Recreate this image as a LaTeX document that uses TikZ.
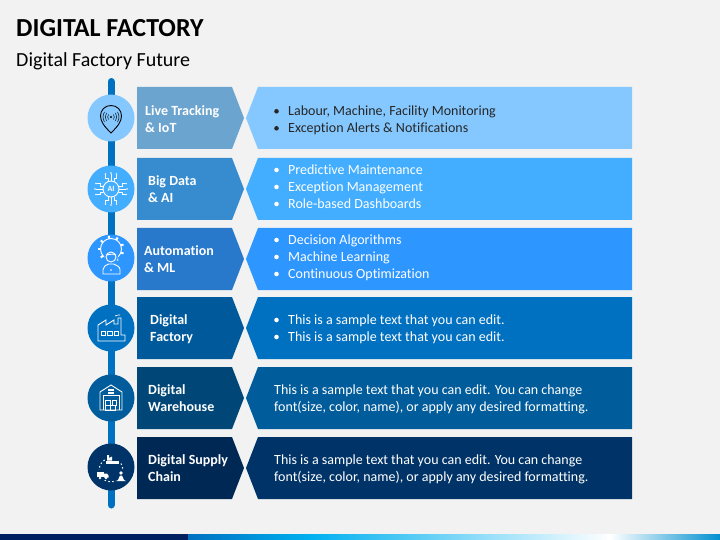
\documentclass[tikz,border=0pt]{standalone}
\usepackage{fontspec}
\setmainfont{Carlito}[Ligatures=CommonOff]
\definecolor{bgc}{HTML}{F2F2F2}
\definecolor{railc}{HTML}{0070C0}
\definecolor{lA}{HTML}{6CA4D0}\definecolor{rA}{HTML}{85C8FF}
\definecolor{lB}{HTML}{378CCF}\definecolor{rB}{HTML}{43AEFF}
\definecolor{lC}{HTML}{2878CC}\definecolor{rC}{HTML}{2E96FF}
\definecolor{lD}{HTML}{00599B}\definecolor{rD}{HTML}{0070C0}
\definecolor{lE}{HTML}{004676}\definecolor{rE}{HTML}{005C9B}
\definecolor{lF}{HTML}{002855}\definecolor{rF}{HTML}{003468}
\definecolor{navy}{HTML}{002060}
\definecolor{barmid}{HTML}{00B0F0}
\definecolor{barend}{HTML}{0090D0}
\tikzset{
  x=1pt,y=-1pt,
  titletext/.style={anchor=base west,inner sep=0pt,font=\fontsize{26}{30}\selectfont\bfseries,text=black},
  subtext/.style={anchor=base west,inner sep=0pt,font=\fontsize{20}{24}\selectfont,text=black},
  labeltext/.style={anchor=base west,inner sep=0pt,font=\fontsize{14}{17}\selectfont\bfseries,text=white},
  bodytext/.style={anchor=base west,inner sep=0pt,font=\fontsize{14}{17}\selectfont,text=white},
  darkbody/.style={anchor=base west,inner sep=0pt,font=\fontsize{14}{17}\selectfont,text=black!85},
  dotmark/.style={circle,fill=#1,inner sep=0pt,minimum size=4.6pt},
  iconw/.style={draw=white,line width=0.7pt,fill=none},
  iconk/.style={draw=black,line width=0.9pt,fill=none},
  dotline/.style={draw=white,line width=1pt,dash pattern=on 1.5pt off 2.5pt},
}
\newcommand{\rowshapes}[4]{% top, left colour, right colour, circle cy
  \fill[#2] (137,#1) -- (232,#1) -- (244,#1+31) -- (232,#1+62) -- (137,#1+62) -- cycle;
  \fill[#3] (258,#1) -- (632,#1) -- (632,#1+62) -- (258,#1+62) -- (246,#1+31) -- cycle;
  \fill[#3] (111,#4) circle (23.5);
}
\begin{document}
\begin{tikzpicture}
\useasboundingbox (0,0) rectangle (720,540);
\fill[bgc] (0,0) rectangle (720,540);
% bottom bar
\fill[navy] (0,534) rectangle (188,540);
\fill[left color=railc,right color=barmid] (188,534) rectangle (310,540);
\fill[left color=barmid,right color=white] (310,534) rectangle (610,540);
\fill[left color=white,right color=barend] (610,534) rectangle (720,540);
% titles
\node[titletext] (title) at (16,37) {DIGITAL FACTORY};
\node[subtext] (subtitle) at (16,66.7) {Digital Factory Future};
% rail
\draw[railc,line width=7pt,line cap=round] (111,81.5) -- (111,505);
% rows
\rowshapes{87}{lA}{rA}{118}
\rowshapes{158}{lB}{rB}{189}
\rowshapes{228}{lC}{rC}{258}
\rowshapes{297}{lD}{rD}{328}
\rowshapes{367}{lE}{rE}{398}
\rowshapes{437}{lF}{rF}{467}
% labels
\node[labeltext] (l1a) at (145,115.8) {Live Tracking};
\node[labeltext] (l1b) at (145,132.8) {\& IoT};
\node[labeltext] (l2a) at (148,185.8) {Big Data};
\node[labeltext] (l2b) at (148,202.8) {\& AI};
\node[labeltext] (l3a) at (144,255) {Automation};
\node[labeltext] (l3b) at (144,272) {\& ML};
\node[labeltext] (l4a) at (150,324) {Digital};
\node[labeltext] (l4b) at (150,341) {Factory};
\node[labeltext] (l5a) at (148,394) {Digital};
\node[labeltext] (l5b) at (148,411) {Warehouse};
\node[labeltext] (l6a) at (148,464) {Digital Supply};
\node[labeltext] (l6b) at (148,481) {Chain};
% body row 1
\node[dotmark=black!85] (b1ad) at (276.5,111.3) {};
\node[darkbody] (b1a) at (288,116) {Labour, Machine, Facility Monitoring};
\node[dotmark=black!85] (b1bd) at (276.5,128.3) {};
\node[darkbody] (b1b) at (288,133) {Exception Alerts \& Notifications};
% body row 2
\node[dotmark=white] (b2ad) at (276.5,170) {};
\node[bodytext] (b2a) at (288,174.7) {Predictive Maintenance};
\node[dotmark=white] (b2bd) at (276.5,187) {};
\node[bodytext] (b2b) at (288,191.7) {Exception Management};
\node[dotmark=white] (b2cd) at (276.5,204) {};
\node[bodytext] (b2c) at (288,208.7) {Role-based Dashboards};
% body row 3
\node[dotmark=white] (b3ad) at (276.5,240) {};
\node[bodytext] (b3a) at (288,244.7) {Decision Algorithms};
\node[dotmark=white] (b3bd) at (276.5,257) {};
\node[bodytext] (b3b) at (288,261.7) {Machine Learning};
\node[dotmark=white] (b3cd) at (276.5,274) {};
\node[bodytext] (b3c) at (288,278.7) {Continuous Optimization};
% body row 4
\node[dotmark=white] (b4ad) at (276.5,320) {};
\node[bodytext] (b4a) at (288,324.4) {This is a sample text that you can edit.};
\node[dotmark=white] (b4bd) at (276.5,337) {};
\node[bodytext] (b4b) at (288,341.4) {This is a sample text that you can edit.};
% body rows 5, 6
\node[bodytext] (b5a) at (274,394.4) {This is a sample text that you can edit. You can change};
\node[bodytext] (b5b) at (274,411.4) {font(size, color, name), or apply any desired formatting.};
\node[bodytext] (b6a) at (274,464.4) {This is a sample text that you can edit. You can change};
\node[bodytext] (b6b) at (274,481.4) {font(size, color, name), or apply any desired formatting.};
% icon 1: pin with signal
\draw[iconk] (111,133) .. controls (105,127) and (100.5,122) .. (100.5,116)
  .. controls (100.5,110) and (105,105.5) .. (111,105.5)
  .. controls (117,105.5) and (121.5,110) .. (121.5,116)
  .. controls (121.5,122) and (117,127) .. (111,133) -- cycle;
\fill[black] (111,117) circle (1.2);
\draw[black,line width=0.5pt] (113.5,114.5) .. controls (114.5,116) and (114.5,118) .. (113.5,119.5);
\draw[black,line width=0.5pt] (115.5,113) .. controls (117,115.5) and (117,118.5) .. (115.5,121);
\draw[black,line width=0.5pt] (117.5,112) .. controls (119.5,115) and (119.5,119) .. (117.5,122);
\draw[black,line width=0.5pt] (108.5,114.5) .. controls (107.5,116) and (107.5,118) .. (108.5,119.5);
\draw[black,line width=0.5pt] (106.5,113) .. controls (105,115.5) and (105,118.5) .. (106.5,121);
\draw[black,line width=0.5pt] (104.5,112) .. controls (102.5,115) and (102.5,119) .. (104.5,122);
% icon 2: AI chip
\draw[iconw,line width=0.9pt] (111,189) circle (8);
\node[inner sep=0pt,text=white,font=\fontsize{8}{9}\selectfont\bfseries] (ai) at (111,189) {AI};
\foreach \a in {0,90,180,270}{
  \begin{scope}[shift={(111,189)},rotate=\a]
    \draw[iconw] (8,-3) -- (11,-3) -- (11,-5.5) -- (14,-5.5);
    \draw[iconw] (8,0) -- (15,0);
    \draw[iconw] (8,3) -- (11,3) -- (11,5.5) -- (14,5.5);
    \fill[white] (15,-5.5) circle (0.8);
    \fill[white] (16,0) circle (0.8);
    \fill[white] (15,5.5) circle (0.8);
  \end{scope}
}
% icon 3: gear and person
\foreach \a in {0,40,...,320}{
  \draw[iconw,line width=2pt] (111,249) ++(\a+20:10.5) -- ++(\a+20:2.8);
}
\draw[iconw,line width=0.9pt] (111,249) circle (10.5);
\fill[rC] (111,257) circle (6.8);
\fill[rC] (100,262) rectangle (122,275);
\draw[iconw,line width=0.9pt] (111,257) circle (5);
\draw[iconw,line width=0.9pt] (106,255) .. controls (108,255) and (113,253) .. (116,255);
\draw[iconw,line width=0.9pt] (103,274) -- (103,269.5) .. controls (103,266.5) and (106,265) .. (108.5,264) -- (113.5,264) .. controls (116,265) and (120,266.5) .. (120,269.5) -- (120,274) -- cycle;
\fill[white] (111,270) circle (0.8);
% icon 4: factory
\draw[iconw,line width=0.9pt] (98,341) -- (98,325) -- (106,320) -- (106,325) -- (114,320) -- (114,324) -- (118,324) -- (118,318) -- (121,318) -- (121,335) -- (125,335) -- (125,341) -- cycle;
\foreach \x in {101,107.5,114}{\draw[iconw] (\x,331) rectangle +(4.5,4.5);}
\draw[iconw] (115,316) .. controls (117,314) and (118,316) .. (120,315);
% icon 5: warehouse
\draw[iconw,line width=0.9pt] (100,410) -- (100,392) -- (111,385) -- (122,392) -- (122,410) -- cycle;
\draw[iconw] (103,410) -- (103,395.5) -- (119,395.5) -- (119,410);
\fill[white] (108,389) rectangle (114,390.5);
\fill[white] (108,392) rectangle (114,393.5);
\draw[iconw] (105,400) rectangle (110,405);
\draw[iconw] (105,405) rectangle (110,410);
\draw[iconw] (110.5,405) rectangle (115.5,410);
\draw[iconw] (112,400) rectangle (116,405);
% icon 6: supply chain loop
\draw[dotline] (111,470) circle (12);
\fill[rF] (105,454) rectangle (120,465);
\fill[rF] (96,470) rectangle (109,480);
\fill[rF] (116,470) rectangle (127,482);
\fill[white] (106,464) rectangle (119,460.5);
\fill[white] (107,460.5) -- (107,455) -- (109,455) -- (109,458) -- (112,456.5) -- (112,460.5) -- cycle;
\fill[white] (97,472) rectangle (104,477);
\fill[white] (104,473.5) -- (107,473.5) -- (108.5,475.5) -- (108.5,477.5) -- (104,477.5) -- cycle;
\fill[white] (100,478) circle (1.4);
\fill[white] (106,478) circle (1.4);
\fill[white] (121,473) circle (1.8);
\fill[white] (118,480) -- (120,475.5) -- (122,475.5) -- (124,480) -- (126,481) -- (116,481) -- cycle;
\end{tikzpicture}
\end{document}
